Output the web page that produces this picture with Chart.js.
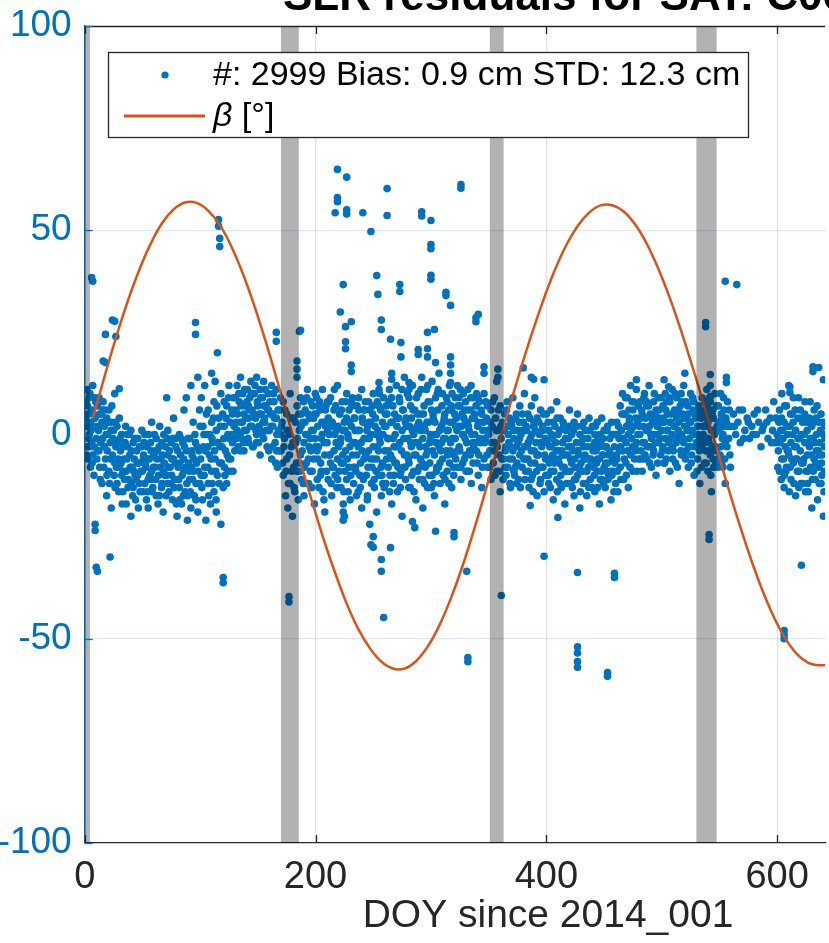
<!DOCTYPE html>
<html>
<head>
<meta charset="utf-8">
<script src="https://cdn.jsdelivr.net/npm/chart.js@4.4.1/dist/chart.umd.min.js"></script>
<style>
  html, body { margin: 0; padding: 0; background: #fff; }
  #wrap { width: 829px; height: 943px; position: relative; }
</style>
</head>
<body>
<div id="wrap"><canvas id="slrChart" width="829" height="943"></canvas></div>
<script>
// x range visible in the crop (days since 2014_001)
const xMin = 0;
const xMax = 641.6;
const xTicks = [0, 200, 400, 600];
const yTicks = [-100, -50, 0, 50, 100];

const titleText = "SLR residuals for SAT: C06";
const xLabel = "DOY since 2014_001";
const legendScatter = "#: 2999 Bias: 0.9 cm STD: 12.3 cm";

// shaded periods (days)
const bandStart = [0, 170, 351, 530];
const bandEnd = [4.5, 185.5, 363, 547.5];

// beta angle curve [deg]
const betaDay = [7,17,27,37,47,57,67,77,87,97,107,117,127,137,147,157,167,177,187,197,207,217,227,237,247,257,267,277,287,297,307,317,327,337,347,357,367,377,387,397,407,417,427,437,447,457,467,477,487,497,507,517,527,537,547,557,567,577,587,597,607,617,627,637,647];
const betaDeg = [4.0,14.0,23.6,32.4,40.1,46.6,51.7,55.1,56.8,56.7,54.8,51.3,46.1,39.4,31.5,22.6,13.0,3.0,-6.9,-16.4,-25.6,-33.9,-41.4,-47.6,-52.3,-55.6,-57.3,-57.3,-55.5,-52.0,-46.9,-40.3,-32.5,-23.6,-14.1,-4.0,5.8,15.3,24.3,32.6,40.0,46.2,51.0,54.3,56.1,56.1,54.6,51.4,46.7,40.6,33.4,25.2,16.2,6.8,-2.9,-12.5,-21.7,-30.3,-38.0,-44.6,-49.9,-53.7,-55.9,-56.5,-56.2];

// residuals [day, cm], main band
const residualCore = [
  [1,8],[1,2],[2,-3],[2,11],[3,5],[3,-6],[4,0],[4,9],[5,3],[5,-8],
  [6,6],[6,-2],[7,12],[7,-5],[8,2],[8,-10],[9,4],[10,-1],
  [11,7],[11,-4],[12,1],[13,-8],[13,5],[14,-2],[15,3],[15,-12],
  [16,8],[17,-3],[17,2],[18,-6],[19,4],[19,-15],[20,0],
  [21,-9],[21,6],[22,-2],[23,3],[23,-18],[24,-5],[25,1],
  [26,-7],[26,10],[27,-3],[28,-12],[28,2],[29,-6],[30,4],
  [31,-4],[32,-10],[32,0],[33,-14],[34,-6],[35,-2],
  [36,-9],[36,-17],[37,-3],[38,-11],[39,-5],[40,-20],[40,1],
  [41,-8],[42,-13],[42,-2],[43,-6],[44,-16],[45,-4],
  [46,-10],[46,-1],[47,-7],[48,-14],[49,-3],[50,-9],
  [51,-5],[52,-12],[52,0],[53,-8],[54,-3],[55,-11],[55,-18],
  [56,-6],[57,-2],[58,-9],[58,3],[59,-13],[60,-5],
  [61,-8],[62,-1],[62,-15],[63,-4],[64,-10],[65,2],
  [66,-6],[67,-12],[67,-2],[68,-19],[69,-7],[70,-3],
  [71,-10],[71,9],[72,1],[72,-5],[73,-14],[74,-8],[75,-2],
  [76,-16],[77,-6],[77,4],[78,-11],[79,-3],[80,-20],
  [81,-8],[82,0],[82,-13],[83,-5],[84,-17],[85,-2],[86,-9],[86,6],[87,-14],[88,-4],[88,9],[89,-21],[90,-7],
  [91,-1],[91,-11],[92,-18],[92,12],[93,-5],[94,3],[94,-9],[95,-15],[96,-2],[97,-7],[98,-19],[98,14],[99,-4],[100,2],
  [101,-10],[101,9],[102,-16],[103,-3],[104,-8],[104,12],[105,-21],[106,0],[107,-12],[107,6],[108,-5],[109,-17],[110,-9],[110,3],[110,15],
  [111,-2],[112,-14],[112,8],[113,-6],[113,13],[114,-19],[114,1],[115,-10],[116,4],[117,-7],[118,-22],[118,10],[119,-3],[120,-13],
  [121,2],[121,-8],[122,-4],[123,7],[123,-12],[124,0],[125,-6],[125,12],[126,3],[127,-9],[128,5],[128,-2],[129,9],[130,-4],
  [131,6],[132,1],[132,12],[133,-3],[134,8],[135,3],[135,14],[136,-1],[137,10],[138,5],[138,-4],[139,7],[140,1],
  [141,11],[142,4],[142,-2],[143,9],[144,13],[145,2],[145,6],[146,-3],[147,10],[148,4],[149,14],[149,0],[150,7],
  [151,2],[152,11],[152,-5],[153,5],[154,9],[155,-1],[155,13],[156,3],[157,7],[158,-3],[159,10],[160,1],
  [161,5],[162,-6],[162,12],[163,2],[164,8],[165,-2],[166,4],[166,11],[167,-8],[168,1],[169,6],[170,-4],
  [171,3],[172,-10],[172,8],[173,-1],[174,-15],[175,5],[175,-6],[176,-18],[177,0],[178,-12],[178,10],[179,-3],[180,-20],[181,4],[181,-8],[182,-14],[183,-2],[184,7],[184,-9],[185,-16],
  [186,1],[187,-5],[187,9],[188,-11],[189,3],[190,-2],[190,-15],[191,6],[192,-7],[193,0],[193,11],[194,-12],[195,4],[196,-4],[196,8],[197,-9],[198,1],[199,-17],[199,5],[200,-3],
  [201,9],[202,-6],[202,2],[203,-13],[204,6],[205,-1],[205,-9],[206,11],[207,3],[208,-5],[208,-19],[209,7],[210,-2],[211,-11],[211,4],[212,0],[213,-7],[213,9],[214,-15],[215,2],[216,-4],[216,6],[217,-10],[218,1],[219,-6],[219,12],[220,-3],
  [221,5],[222,-13],[222,-1],[223,8],[224,-7],[225,3],[225,-20],[226,-4],[227,10],[227,-11],[228,0],[229,6],[229,-8],[230,-16],[231,2],[232,-5],[232,9],[233,-12],[234,-2],[234,4],[235,-9],[236,7],[237,-14],[237,-3],[238,1],[239,-7],[240,11],[240,-18],
  [241,3],[242,-6],[242,-1],[243,8],[244,-10],[245,2],[245,-15],[246,-4],[246,8],[247,6],[247,-22],[248,0],[249,-8],[250,10],[250,-3],[251,-13],[252,4],[253,-6],[253,-19],[254,1],[255,-10],[255,7],[256,-2],[257,-15],[258,3],[258,-7],[259,9],[260,-4],
  [261,-12],[261,2],[262,5],[263,-8],[263,-1],[264,11],[265,-5],[266,-17],[266,3],[267,7],[268,-3],[268,-10],[269,0],[270,12],[270,-7],[271,-14],[272,4],[273,-2],[273,8],[274,-9],[275,1],[275,-20],[276,6],[277,-5],[277,14],[278,-11],[279,2],[280,-1],
  [281,9],[281,-7],[282,-13],[283,4],[283,-3],[284,12],[285,0],[285,-9],[286,6],[287,-16],[287,-5],[288,2],[289,10],[289,-2],[290,-11],[291,5],[291,-6],[292,14],[293,-1],[293,-18],[294,7],[295,-8],[295,1],[296,11],[297,-4],[297,-13],[298,3],[299,8],[299,-7],[300,-1],
  [301,13],[301,-10],[302,4],[303,-5],[303,-15],[304,9],[305,0],[305,-8],[306,6],[307,-3],[307,15],[308,-12],[309,2],[310,-6],[310,10],[311,-1],[312,-17],[312,5],[313,-4],[314,8],[314,-9],[315,1],[316,12],[316,-7],[317,-2],[318,6],[318,-13],[319,3],[320,-5],
  [321,9],[321,-1],[322,4],[323,-8],[323,12],[324,2],[325,7],[325,-4],[326,-11],[327,5],[328,0],[328,10],[329,-6],[330,3],[330,8],[331,-2],[332,11],[332,-9],[333,1],[334,6],[334,-5],[335,-12],[336,4],[337,9],[337,-3],[338,0],[339,7],[340,-7],
  [341,3],[341,-10],[342,8],[343,-2],[344,5],[344,-13],[345,1],[346,-6],[346,10],[347,-1],[348,4],[349,-8],[349,7],[350,0],
  [351,-4],[352,6],[352,-11],[353,2],[354,-7],[355,9],[355,-2],[356,4],[357,-9],[357,13],[358,1],[359,-5],[360,7],[360,-14],[361,-1],[362,3],[363,-6],
  [364,5],[365,-3],[365,-10],[366,8],[367,0],[368,-6],[368,4],[369,-13],[370,2],[371,-4],[371,9],[372,-1],[373,-8],[374,5],[374,-3],[375,1],[376,-11],[377,7],[377,-5],[378,0],[379,-8],[380,3],
  [381,-3],[381,10],[382,-9],[383,1],[384,-6],[384,5],[385,-13],[386,-1],[387,7],[387,-4],[388,-10],[389,2],[390,-7],[390,9],[391,-2],[392,-15],[392,4],[393,-5],[394,0],[395,-11],[395,6],[396,-3],[397,-8],[397,2],[398,-14],[399,-1],[400,5],
  [401,-6],[402,1],[402,-12],[403,-3],[404,6],[404,-9],[405,-1],[406,-16],[406,3],[407,-6],[408,-2],[409,-11],[409,8],[410,0],[411,-7],[411,-4],[412,4],[413,-13],[414,-2],[414,-8],[415,2],[416,-5],[416,-17],[417,1],[418,-9],[419,-3],[420,6],
  [421,-6],[421,-12],[422,0],[423,-4],[424,-15],[424,3],[425,-8],[426,-2],[427,-10],[427,5],[428,-5],[429,-18],[429,0],[430,-7],[431,2],[432,-3],[432,-12],[433,-6],[434,1],[435,-9],[435,-15],[436,-1],[437,4],[437,-6],[438,-11],[439,-3],[440,2],
  [441,-8],[442,0],[442,-14],[443,-4],[444,3],[444,-9],[445,-1],[446,-6],[446,-17],[447,-2],[448,-11],[448,4],[449,-5],[450,-8],[450,1],[451,-13],[452,-3],[453,-7],[453,2],[454,-10],[455,-1],[456,-5],[456,-16],[457,0],[458,-9],[459,-3],[460,-12],
  [461,3],[461,-6],[462,-14],[463,-1],[464,7],[464,-8],[465,1],[466,-4],[466,10],[467,-11],[468,5],[469,-2],[469,-7],[470,9],[471,0],[471,-13],[472,4],[473,-5],[473,12],[474,-1],[475,6],[475,-9],[476,2],[477,-4],[478,11],[478,-2],[479,3],[480,-6],
  [481,8],[481,0],[482,-4],[483,5],[483,-9],[484,2],[485,10],[485,-2],[486,4],[487,-6],[487,7],[488,1],[489,-3],[489,12],[490,5],[491,-1],[491,-8],[492,3],[493,8],[493,-4],[494,0],[495,6],[495,-10],[496,2],[497,-2],[497,9],[498,4],[499,-5],[500,1],
  [501,7],[501,-3],[502,3],[503,10],[503,-1],[504,-6],[505,5],[505,1],[506,-2],[507,8],[507,-9],[508,3],[509,0],[509,11],[510,-4],[511,6],[511,2],[512,-7],[513,4],[513,9],[514,-1],[515,-12],[515,3],[516,7],[517,0],[517,-5],[518,5],[519,12],[519,-2],[520,2],
  [521,-4],[521,8],[522,1],[523,-8],[523,5],[524,-1],[525,10],[525,3],[526,-5],[527,6],[527,0],[528,-10],[529,4],[530,-2],
  [531,2],[531,-6],[532,7],[533,-1],[533,-12],[534,4],[535,-3],[535,9],[536,0],[537,-7],[537,5],[538,2],[538,-4],[539,11],[539,-1],[540,-9],[540,3],[541,6],[541,-2],[542,-5],[542,8],[543,1],[543,-14],[544,-3],[545,4],[545,-8],[546,0],[546,10],[547,-4],[548,2],
  [549,-6],[549,7],[550,1],[551,-3],[551,10],[552,4],[553,-8],[553,0],[554,6],[555,-2],[555,-12],[556,3],[557,8],[558,-1],[559,-5],[560,2],
  [562,5],[564,0],[566,3],[568,-2],[570,6],[572,1],[574,4],[576,-1],[578,2],[580,5],[582,0],[584,3],[586,-3],[588,2],[590,6],[592,-1],[594,4],[596,1],[597,8],[598,-2],[599,4],[600,0],
  [601,-4],[602,6],[602,-9],[603,1],[604,-6],[604,10],[605,-1],[606,-13],[606,3],[607,-3],[608,7],[608,-8],[609,0],[610,-5],[610,12],[611,2],[612,-11],[612,-2],[613,5],[614,-7],[614,9],[615,-3],[616,1],[616,-15],[617,-6],[618,4],[618,-1],[619,-9],[620,6],[620,-4],
  [621,0],[622,-12],[622,3],[623,-6],[624,8],[624,-2],[625,-9],[626,1],[626,-5],[627,-14],[628,4],[628,-3],[629,-8],[630,2],[630,-18],[631,-1],[632,-6],[632,6],[633,-11],[634,0],[634,-4],[635,-16],[636,3],[636,-8],[637,-2],[638,-12],[638,5],[639,-5],[640,-20],[640,0],[641,-9],[641,-3]
];

// residuals [day, cm], second pass through the band
const residualFill = [
  [0.5,4],[1.5,-5],[2.5,7],[3.5,-1],[4.5,10],[5.5,1],[6.5,-7],[7.5,5],[8.5,-3],[9.5,8],
  [10.5,-6],[11.5,2],[12.5,9],[13.5,-11],[14.5,5],[15.5,-1],[16.5,-8],[17.5,6],[18.5,0],[19.5,-4],
  [20.5,3],[21.5,-12],[22.5,-6],[23.5,7],[24.5,-1],[25.5,-10],[26.5,3],[27.5,-8],[28.5,-2],[29.5,-14],
  [30.5,-1],[31.5,-7],[32.5,-17],[33.5,-3],[34.5,-11],[35.5,2],[36.5,-6],[37.5,-13],[38.5,0],[39.5,-8],
  [40.5,-4],[41.5,-15],[42.5,-9],[43.5,-1],[44.5,-11],[45.5,-7],[46.5,-18],[47.5,-3],[48.5,-9],[49.5,1],
  [50.5,-14],[51.5,-2],[52.5,-7],[53.5,-16],[54.5,-6],[55.5,0],[56.5,-10],[57.5,-4],[58.5,-14],[59.5,-8],
  [60.5,0],[61.5,-11],[62.5,-6],[63.5,-17],[64.5,-3],[65.5,-8],[66.5,-13],[67.5,-5],[68.5,0],[69.5,-10],
  [70.5,-15],[71.5,-1],[72.5,-8],[73.5,-4],[74.5,-12],[75.5,-6],[76.5,-1],[77.5,-13],[78.5,-7],[79.5,-17],
  [80.5,-4],[81.5,-11],[82.5,-7],[83.5,-1],[84.5,-10],[85.5,-15],[86.5,-3],[87.5,-8],[88.5,-12],[89.5,-1],
  [90.5,-9],[91.5,-14],[92.5,-4],[93.5,-11],[94.5,-6],[95.5,0],[96.5,-12],[97.5,-3],[98.5,-9],[99.5,6],
  [100.5,-6],[101.5,-13],[102.5,2],[103.5,-10],[104.5,-4],[105.5,5],[106.5,-8],[107.5,-15],[108.5,0],[109.5,-6],
  [110.5,-12],[111.5,4],[112.5,-4],[113.5,-9],[114.5,7],[115.5,-2],[116.5,-12],[117.5,2],[118.5,-7],[119.5,5],
  [120.5,-1],[121.5,-10],[122.5,4],[123.5,-5],[124.5,9],[125.5,-1],[126.5,-6],[127.5,6],[128.5,-9],[129.5,2],
  [130.5,9],[131.5,-1],[132.5,5],[133.5,10],[134.5,0],[135.5,7],[136.5,3],[137.5,-2],[138.5,11],[139.5,4],
  [140.5,8],[141.5,-1],[142.5,6],[143.5,2],[144.5,10],[145.5,-3],[146.5,5],[147.5,12],[148.5,1],[149.5,8],
  [150.5,-2],[151.5,5],[152.5,9],[153.5,0],[154.5,3],[155.5,7],[156.5,11],[157.5,1],[158.5,6],[159.5,-4],
  [160.5,8],[161.5,2],[162.5,-3],[163.5,10],[164.5,4],[165.5,-7],[166.5,0],[167.5,6],[168.5,-4],[169.5,9],
  [170.5,2],[171.5,-7],[172.5,-3],[173.5,6],[174.5,-9],[175.5,1],[176.5,-12],[177.5,-5],[178.5,4],[179.5,-9],
  [180.5,-2],[181.5,-13],[182.5,3],[183.5,-7],[184.5,-1],[185.5,5],[186.5,-9],[187.5,2],[188.5,-4],[189.5,8],
  [190.5,-8],[191.5,0],[192.5,-12],[193.5,5],[194.5,-3],[195.5,-9],[196.5,1],[197.5,7],[198.5,-6],[199.5,-1],
  [200.5,5],[201.5,-11],[202.5,-3],[203.5,8],[204.5,-7],[205.5,3],[206.5,-14],[207.5,-2],[208.5,6],[209.5,-9],
  [210.5,1],[211.5,8],[212.5,-5],[213.5,-12],[214.5,3],[215.5,-8],[216.5,0],[217.5,7],[218.5,-13],[219.5,2],
  [220.5,-9],[221.5,-2],[222.5,6],[223.5,-5],[224.5,-14],[225.5,1],[226.5,8],[227.5,-6],[228.5,-1],[229.5,3],
  [230.5,-10],[231.5,7],[232.5,-2],[233.5,4],[234.5,-8],[235.5,-15],[236.5,1],[237.5,6],[238.5,-10],[239.5,-2],
  [240.5,4],[241.5,-11],[242.5,6],[243.5,-5],[244.5,1],[245.5,-8],[246.5,-1],[247.5,3],[248.5,-12],[249.5,5],
  [250.5,-6],[251.5,2],[252.5,-9],[253.5,8],[254.5,-4],[255.5,-1],[256.5,6],[257.5,-10],[258.5,0],[259.5,-13],
  [260.5,5],[261.5,-6],[262.5,-1],[263.5,8],[264.5,-10],[265.5,3],[266.5,-6],[267.5,-12],[268.5,5],[269.5,-3],
  [270.5,2],[271.5,-8],[272.5,9],[273.5,-13],[274.5,-4],[275.5,6],[276.5,-1],[277.5,-8],[278.5,4],[279.5,10],
  [280.5,-6],[281.5,2],[282.5,-2],[283.5,-10],[284.5,6],[285.5,-5],[286.5,1],[287.5,9],[288.5,-9],[289.5,3],
  [290.5,-3],[291.5,11],[292.5,-7],[293.5,5],[294.5,-12],[295.5,-3],[296.5,3],[297.5,8],[298.5,-10],[299.5,0],
  [300.5,6],[301.5,-4],[302.5,-12],[303.5,3],[304.5,-2],[305.5,10],[306.5,-8],[307.5,1],[308.5,-4],[309.5,7],
  [310.5,-10],[311.5,4],[312.5,-1],[313.5,9],[314.5,-5],[315.5,-12],[316.5,3],[317.5,7],[318.5,-1],[319.5,-8],
  [320.5,5],[321.5,-6],[322.5,1],[323.5,7],[324.5,-3],[325.5,11],[326.5,2],[327.5,-7],[328.5,4],[329.5,-1],
  [330.5,-9],[331.5,6],[332.5,2],[333.5,-4],[334.5,9],[335.5,0],[336.5,-7],[337.5,4],[338.5,-2],[339.5,10],
  [340.5,2],[341.5,-5],[342.5,-1],[343.5,6],[344.5,-8],[345.5,3],[346.5,-2],[347.5,8],[348.5,-5],[349.5,1],
  [350.5,-8],[351.5,3],[352.5,-2],[353.5,8],[354.5,-4],[355.5,-10],[356.5,1],[357.5,-3],[358.5,6],[359.5,-9],
  [360.5,2],[361.5,-6],[362.5,-11],[363.5,1],[364.5,-4],[365.5,6],[366.5,-8],[367.5,-2],[368.5,-12],[369.5,3],
  [370.5,-6],[371.5,1],[372.5,-10],[373.5,4],[374.5,-7],[375.5,-2],[376.5,3],[377.5,-13],[378.5,-4],[379.5,1],
  [380.5,-6],[381.5,-11],[382.5,2],[383.5,-3],[384.5,-9],[385.5,4],[386.5,-7],[387.5,0],[388.5,-14],[389.5,-4],
  [390.5,1],[391.5,-9],[392.5,-5],[393.5,3],[394.5,-12],[395.5,-2],[396.5,-8],[397.5,5],[398.5,-5],[399.5,-10],
  [400.5,-2],[401.5,3],[402.5,-7],[403.5,-13],[404.5,0],[405.5,-5],[406.5,-9],[407.5,2],[408.5,-4],[409.5,-14],
  [410.5,-6],[411.5,1],[412.5,-10],[413.5,-4],[414.5,3],[415.5,-8],[416.5,-1],[417.5,-12],[418.5,-5],[419.5,2],
  [420.5,-9],[421.5,-3],[422.5,-13],[423.5,1],[424.5,-6],[425.5,-11],[426.5,2],[427.5,-4],[428.5,-8],[429.5,-14],
  [430.5,-2],[431.5,-9],[432.5,3],[433.5,-5],[434.5,-12],[435.5,-3],[436.5,-8],[437.5,1],[438.5,-6],[439.5,-13],
  [440.5,-4],[441.5,-10],[442.5,2],[443.5,-7],[444.5,-13],[445.5,-3],[446.5,0],[447.5,-9],[448.5,-5],[449.5,-12],
  [450.5,-3],[451.5,-7],[452.5,1],[453.5,-11],[454.5,-4],[455.5,-9],[456.5,3],[457.5,-6],[458.5,-14],[459.5,0],
  [460.5,-5],[461.5,-9],[462.5,2],[463.5,-4],[464.5,-11],[465.5,5],[466.5,-1],[467.5,-6],[468.5,9],[469.5,2],
  [470.5,-4],[471.5,6],[472.5,-8],[473.5,1],[474.5,-3],[475.5,8],[476.5,-6],[477.5,4],[478.5,-9],[479.5,7],
  [480.5,2],[481.5,-6],[482.5,6],[483.5,-2],[484.5,9],[485.5,-5],[486.5,1],[487.5,-3],[488.5,7],[489.5,-7],
  [490.5,0],[491.5,4],[492.5,-5],[493.5,10],[494.5,-2],[495.5,3],[496.5,-7],[497.5,6],[498.5,-1],[499.5,9],
  [500.5,-4],[501.5,4],[502.5,-7],[503.5,6],[504.5,1],[505.5,-4],[506.5,9],[507.5,-1],[508.5,5],[509.5,-6],
  [510.5,2],[511.5,10],[512.5,-2],[513.5,-8],[514.5,6],[515.5,0],[516.5,-4],[517.5,8],[518.5,-1],[519.5,4],
  [520.5,-6],[521.5,2],[522.5,7],[523.5,-3],[524.5,3],[525.5,-7],[526.5,1],[527.5,8],[528.5,-3],[529.5,5],
  [530.5,-9],[531.5,0],[532.5,-4],[533.5,6],[534.5,-8],[535.5,2],[536.5,-2],[537.5,8],[538.5,-7],[539.5,4],
  [540.5,-1],[541.5,9],[542.5,-10],[543.5,5],[544.5,-6],[545.5,1],[546.5,-3],[547.5,7],[548.5,-8],[549.5,3],
  [550.5,-5],[551.5,5],[552.5,-1],[553.5,9],[554.5,-6],[555.5,4],[556.5,-3],[557.5,2],[558.5,6],[559.5,-8],
  [563,2],[567,6],[571,-1],[575,3],[579,0],[583,6],[587,1],[591,3],[595,-2],
  [600.5,-8],[601.5,3],[602.5,-2],[603.5,-11],[604.5,1],[605.5,-6],[606.5,7],[607.5,-9],[608.5,2],[609.5,-4],
  [610.5,-14],[611.5,5],[612.5,-6],[613.5,0],[614.5,-12],[615.5,6],[616.5,-3],[617.5,-9],[618.5,9],[619.5,-1],
  [620.5,-12],[621.5,4],[622.5,-7],[623.5,0],[624.5,-14],[625.5,3],[626.5,-9],[627.5,-2],[628.5,8],[629.5,-5],
  [630.5,-11],[631.5,3],[632.5,-2],[633.5,-7],[634.5,7],[635.5,-4],[636.5,-12],[637.5,1],[638.5,-7],[639.5,3],[640.5,-14],[641.5,-1]
];

// residuals [day, cm], third pass where the band is densest
const residualDense = [
  [2.8,2],[5.3,-3],[8.8,9],[12.3,-4],[15.8,6],[19.3,-10],[22.8,1],[26.3,-13],[29.8,-8],[33.3,-9],[36.8,0],[40.3,-12],[43.8,-10],[47.3,-12],[50.8,-6],
  [54.3,-14],[57.8,-11],[61.3,-4],[64.8,-15],[68.3,-9],[71.8,-12],[75.3,-10],[78.8,-1],[82.3,-16],[85.8,-6],[89.3,-15],[92.8,-8],[96.3,-16],[99.8,-12],
  [103.3,0],[106.8,-3],[110.3,-1],[113.8,-16],[117.3,-3],[120.8,8],[124.3,-9],[127.8,0],[131.3,3],[134.8,-4],[138.3,1],[141.8,7],[145.3,10],[148.8,-2],
  [152.3,1],[155.8,4],[159.3,6],[162.8,5],[166.3,-4],[169.8,0],
  [186.3,-7],[187.8,5],[189.3,-12],[190.8,3],[192.3,9],[193.8,-6],[195.3,-1],[196.8,-13],[198.3,4],[199.8,10],
  [201.3,-4],[202.8,7],[204.3,-10],[205.8,0],[207.3,-16],[208.8,2],[210.3,8],[211.8,-5],[213.3,3],[214.8,-8],
  [216.3,11],[217.8,-2],[219.3,-11],[220.8,5],[222.3,-7],[223.8,1],[225.3,-9],[226.8,4],[228.3,-14],[229.8,-3],
  [231.3,8],[232.8,-8],[234.3,1],[235.8,-5],[237.3,9],[238.8,-13],[240.3,-4],[241.8,6],[243.3,-1],[244.8,-16],
  [246.3,3],[247.8,-6],[249.3,7],[250.8,-11],[252.3,0],[253.8,-3],[255.3,10],[256.8,-8],[258.3,-12],[259.8,2],
  [261.3,7],[262.8,-4],[264.3,-14],[265.8,9],[267.3,-1],[268.8,-7],[270.3,4],[271.8,-3],[273.3,-10],[274.8,11],
  [276.3,-8],[277.8,3],[279.3,-5],[280.8,-13],[282.3,7],[283.8,1],[285.3,-14],[286.8,-2],[288.3,5],[289.8,-8],
  [291.3,1],[292.8,-11],[294.3,2],[295.8,-5],[297.3,12],[298.8,-2],[300.3,-13],[301.8,5],[303.3,0],[304.8,-9],
  [306.3,11],[307.8,-7],[309.3,-2],[310.8,3],[312.3,-11],[313.8,1],[315.3,6],[316.8,-4],[318.3,10],[319.8,-10],
  [321.3,2],[322.8,-4],[324.3,9],[325.8,-8],[327.3,0],[328.8,6],[330.3,-5],[331.8,3],[333.3,-9],[334.8,12],
  [336.3,-2],[337.8,5],[339.3,-4],[340.8,9],
  [364.3,-8],[366.8,2],[369.3,-3],[371.8,-9],[374.3,-12],[376.8,-1],[379.3,5],[381.8,-6],[384.3,-2],[386.8,-11],
  [389.3,3],[391.8,-5],[394.3,-8],[396.8,1],[399.3,-6],[401.8,-10],[404.3,-3],[406.8,-7],[409.3,4],[411.8,-12],
  [414.3,-5],[416.8,-9],[419.3,-1],[421.8,-7],[424.3,-11],[426.8,-4],[429.3,-9],[431.8,-1],[434.3,-6],[436.8,-13],
  [439.3,-7],[441.8,-2],[444.3,-6],[446.8,-11],[449.3,-1],[451.8,-9],[454.3,-5],[456.8,-10],[459.3,-7],[461.8,0],
  [464.3,-3],[466.8,5],[469.3,-10],[471.8,3],[474.3,8],[476.8,-3],[479.3,0],[481.8,4],[484.3,-6],[486.8,8],
  [489.3,2],[491.8,-3],[494.3,5],[496.8,0],[499.3,3],[501.8,-7],[504.3,8],[506.8,3],[509.3,-3],[511.8,5],
  [514.3,1],[516.8,10],[519.3,-5],[521.8,4],[524.3,-3],[526.8,9],[529.3,0],[531.8,5],[534.3,-2],[536.8,2],
  [539.3,7],[541.8,-4],[544.3,6],[546.8,-7],[549.3,1],[551.8,-7],[554.3,2],
  [601.3,-1],[603.8,4],[606.3,-10],[608.8,-4],[611.3,-8],[613.8,3],[616.3,-6],[618.8,-13],[621.3,-7],[623.8,5],[626.3,-12],[628.8,-1],[631.3,-9],[633.8,4],[636.3,-5],[638.8,-10],[641.2,2]
];

// residuals [day, cm], scattered outliers
const residualOutliers = [
  [6,38.4],[7,37.5],[9,-22],[9,-23.5],[10,-32.5],[11,-33.5],[22,-30],[18,24.5],[26,27.7],[27,24],[18,17.6],[30,11.2],[16,18],[24,28],
  [96,27.4],[96,24.5],[115,20],[116,52.6],[116,51],[117,48],[117,46],[120,-35],[120,-36.3],[177,-39.7],[177,-41],
  [166,25],[166,22.8],[186,25.2],[187,25.5],[184,18],[184,16],[184,14],
  [219,64.9],[227,63],[219,58],[219,57],[217,54.3],[227,55],[227,54],[241,54.3],[248,49.7],[262,60.2],[262,53.6],
  [292,54.5],[292,53.5],[300,52.4],[300,46.5],[300,45.5],[300,39],[300,38],[326,61.2],[326,60.3],
  [313,34.8],[313,34],[317,31.6],[339,28.6],[339,27.6],[341,29.4],[253,38.9],[254,34.3],[273,36.7],[273,35],
  [224,36.7],[221.5,30],[231,27.6],[226,26.4],[226,22.7],[226,21],[257,28],[257,25.7],[265,23.3],[274,22.5],[274,19],
  [289,20.8],[289,19.6],[297,25],[303,25.7],[297,21],[297,19],[304,17.6],[317,19],[317,17],[317,15],[317,12.7],
  [266,15],[266,13.5],[255,12.7],[255,11],[281,12.7],[281,11],[231,17],[231,15.4],
  [224,-17],[224,-19],[224,-21],[248,-27],[250,-25],[250,-27.6],[257,-30.6],[257,-33.5],[265,-27.7],[259,-44.8],
  [284,-21.3],[286,-22.8],[304,-23.7],[320,-24],[320,-25],[331,-33.5],[332,-54.6],[332,-55.6],[361,-39.4],
  [410,-20.3],[398,-29.8],[427,-33.8],[427,-52],[427,-53.5],[427,-55.6],[427,-57],[453,-58.3],[453,-59.2],[459,-34],[459,-35],
  [386,-17.4],[541,-24.5],[541,-25.7],[606,-48],[606,-49],[606,-50],[621,-32],
  [346,16.6],[346,15],[358,16],[358,14],[380,16.3],[387,14],[389,13.5],[398,13.4],
  [555,37.5],[565,36.7],[538,27.4],[538,26.4],[542,14.7],[542,12],[542,9.3],[556,14],[556,12.7],
  [631,16.6],[631,15.4],[636,16.4],[611,11.7],[611,10.3],[478,13.4],[502,13.4],[506,11.7],[520,15],[640,13.4]
];

const residualPoints = residualCore.concat(residualFill, residualDense, residualOutliers);

const blue = "#0072BD";
const orange = "#D95319";
const axisDark = "#262626";
const fontName = "'Liberation Sans', Arial, Helvetica, sans-serif";

const overlayPlugin = {
  id: "matlabOverlay",
  afterDatasetsDraw(chart) {
    const ctx = chart.ctx;
    const xs = chart.scales.x;
    const area = chart.chartArea;
    ctx.save();
    ctx.beginPath();
    ctx.rect(area.left - 2, area.top, area.right - area.left + 2, area.bottom - area.top);
    ctx.clip();
    ctx.fillStyle = "rgba(0,0,0,0.3)";
    for (let i = 0; i < bandStart.length; i++) {
      const x0 = xs.getPixelForValue(bandStart[i]);
      const x1 = xs.getPixelForValue(bandEnd[i]);
      ctx.fillRect(x0, area.top, x1 - x0, area.bottom - area.top);
    }
    ctx.restore();
  },
  afterDraw(chart) {
    const ctx = chart.ctx;
    const xs = chart.scales.x;
    const ys = chart.scales.y;
    const area = chart.chartArea;
    ctx.save();

    // top box edge
    ctx.strokeStyle = axisDark;
    ctx.lineWidth = 1.3;
    ctx.beginPath();
    ctx.moveTo(area.left, area.top + 0.5);
    ctx.lineTo(area.right, area.top + 0.5);
    ctx.stroke();

    // inward x ticks (bottom and top)
    for (const t of xTicks) {
      const px = Math.round(xs.getPixelForValue(t)) + 0.5;
      ctx.beginPath();
      ctx.moveTo(px, area.bottom);
      ctx.lineTo(px, area.bottom - 8);
      ctx.moveTo(px, area.top);
      ctx.lineTo(px, area.top + 8);
      ctx.stroke();
    }
    // inward y ticks
    ctx.strokeStyle = blue;
    for (const t of yTicks) {
      const py = Math.round(ys.getPixelForValue(t)) + 0.5;
      ctx.beginPath();
      ctx.moveTo(area.left, py);
      ctx.lineTo(area.left + 8, py);
      ctx.stroke();
    }

    // legend
    const lx = 108.5, ly = 52.5, lw = 640, lh = 85;
    ctx.fillStyle = "#fff";
    ctx.fillRect(lx, ly, lw, lh);
    ctx.strokeStyle = axisDark;
    ctx.lineWidth = 1.3;
    ctx.strokeRect(lx, ly, lw, lh);
    ctx.fillStyle = blue;
    ctx.beginPath();
    ctx.arc(165, 75, 3.6, 0, Math.PI * 2);
    ctx.fill();
    ctx.strokeStyle = orange;
    ctx.lineWidth = 3;
    ctx.beginPath();
    ctx.moveTo(124, 116);
    ctx.lineTo(205, 116);
    ctx.stroke();
    ctx.fillStyle = "#000";
    ctx.textBaseline = "middle";
    ctx.textAlign = "left";
    ctx.font = "34px " + fontName;
    ctx.fillText(legendScatter, 213, 76);
    ctx.font = "italic 34px " + fontName;
    ctx.fillText("\u03B2", 213, 117);
    const bw = ctx.measureText("\u03B2").width;
    ctx.font = "34px " + fontName;
    ctx.fillText(" [\u00B0]", 213 + bw, 117);

    // title (cut off by the crop)
    ctx.font = "bold 44px " + fontName;
    ctx.fillStyle = "#000";
    ctx.textBaseline = "alphabetic";
    ctx.fillText(titleText, 283, 10);

    // x axis label
    ctx.font = "39px " + fontName;
    ctx.fillStyle = axisDark;
    ctx.textAlign = "center";
    ctx.textBaseline = "middle";
    ctx.fillText(xLabel, 548, 916);

    ctx.restore();
  }
};

new Chart(document.getElementById("slrChart"), {
  type: "scatter",
  data: {
    datasets: [
      {
        label: "beta",
        type: "line",
        data: betaDay.map((d, i) => ({ x: d, y: betaDeg[i] })),
        borderColor: orange,
        borderWidth: 2.5,
        pointRadius: 0,
        tension: 0.4,
        fill: false,
        order: 0
      },
      {
        label: legendScatter,
        data: residualPoints.map(p => ({ x: p[0], y: p[1] })),
        backgroundColor: blue,
        borderWidth: 0,
        pointRadius: 3.8,
        pointHoverRadius: 3.8,
        order: 1
      }
    ]
  },
  options: {
    responsive: false,
    animation: false,
    events: [],
    layout: { padding: { top: 26, left: 0, right: 0, bottom: 0 } },
    plugins: { legend: { display: false }, tooltip: { enabled: false } },
    scales: {
      x: {
        type: "linear",
        min: xMin,
        max: xMax,
        afterFit(scale) { scale.height = 100; },
        afterBuildTicks(scale) { scale.ticks = xTicks.map(v => ({ value: v })); },
        ticks: {
          color: axisDark,
          font: { family: fontName, size: 38 },
          padding: 12,
          maxRotation: 0
        },
        grid: {
          drawTicks: false,
          color: c => (c.tick && c.tick.value === 0 ? "rgba(0,0,0,0)" : "#e3e3e3"),
          lineWidth: 1.3
        },
        border: { color: axisDark, width: 1.3 }
      },
      y: {
        min: -100,
        max: 100,
        afterFit(scale) { scale.width = 84.7; },
        afterBuildTicks(scale) { scale.ticks = yTicks.map(v => ({ value: v })); },
        ticks: {
          color: blue,
          font: { family: fontName, size: 37, lineHeight: 0.6 },
          padding: 13
        },
        grid: {
          drawTicks: false,
          color: c => (c.tick && Math.abs(c.tick.value) === 100 ? "rgba(0,0,0,0)" : "rgba(0,114,189,0.15)"),
          lineWidth: 1.3
        },
        border: { color: blue, width: 1.5 }
      }
    }
  },
  plugins: [overlayPlugin]
});
</script>
</body>
</html>
